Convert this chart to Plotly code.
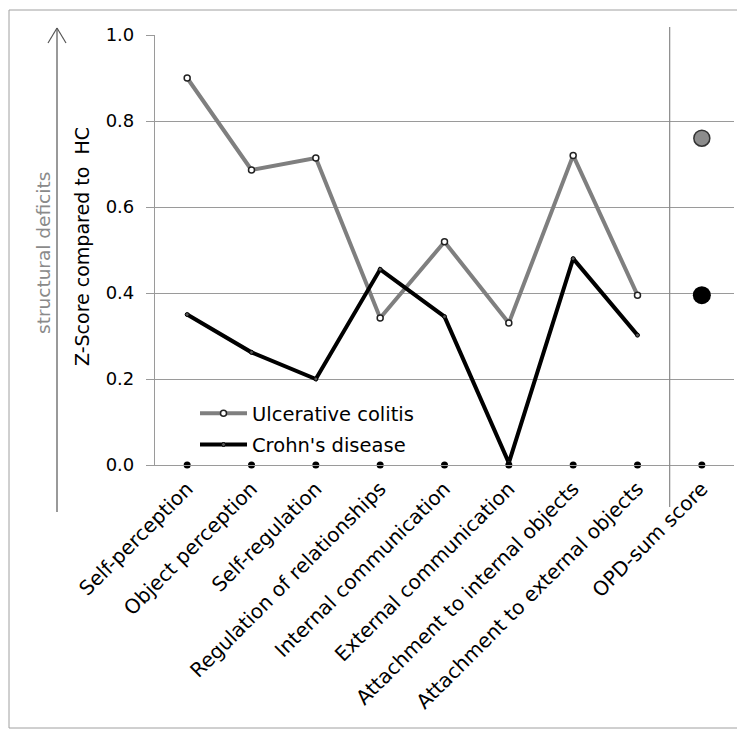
import plotly.graph_objects as go

categories = ["Self-perception", "Object perception", "Self-regulation",
              "Regulation of relationships", "Internal communication",
              "External communication", "Attachment to internal objects",
              "Attachment to external objects", "OPD-sum score"]
dimension_categories = categories[:8]
uc_values = [0.90, 0.686, 0.714, 0.342, 0.519, 0.330, 0.720, 0.395]
cd_values = [0.350, 0.262, 0.200, 0.455, 0.345, 0.005, 0.480, 0.302]
hc_values = [0, 0, 0, 0, 0, 0, 0, 0, 0]
opd_uc = [0.760]
opd_cd = [0.395]
y_ticks = [0.0, 0.2, 0.4, 0.6, 0.8, 1.0]
y_ticklabels = ["0.0", "0.2", "0.4", "0.6", "0.8", "1.0"]

FONT = "DejaVu Sans"
GRID = "#9a9a9a"

fig = go.Figure()
fig.add_trace(go.Scatter(
    x=dimension_categories, y=uc_values, mode="lines+markers",
    name="Ulcerative colitis", legendgroup="uc",
    line=dict(color="#7f7f7f", width=4),
    marker=dict(size=6, color="white", line=dict(color="#222", width=1.5)),
    cliponaxis=False))
fig.add_trace(go.Scatter(
    x=dimension_categories, y=cd_values, mode="lines+markers",
    name="Crohn's disease", legendgroup="cd",
    line=dict(color="black", width=4),
    marker=dict(size=4, color="#555", line=dict(color="black", width=1)),
    cliponaxis=False))
fig.add_trace(go.Scatter(
    x=categories, y=hc_values, mode="markers", showlegend=False,
    marker=dict(size=7, color="black"), cliponaxis=False))
fig.add_trace(go.Scatter(
    x=[categories[8]], y=opd_uc, mode="markers", showlegend=False,
    marker=dict(size=16, color="#8c8c8c", line=dict(color="#333", width=1.5)),
    cliponaxis=False))
fig.add_trace(go.Scatter(
    x=[categories[8]], y=opd_cd, mode="markers", showlegend=False,
    marker=dict(size=18, color="black"), cliponaxis=False))

# screenshot pixel -> paper coordinates (plot area 155..734 x 35..465 on screen)
def px_x(p):
    return (p - 155) / 579.0

def px_y(p):
    return (465 - p) / 430.0

shapes = [
    dict(type="rect", xref="paper", yref="paper",
         x0=px_x(9), x1=px_x(760), y0=px_y(728), y1=px_y(10),
         line=dict(color="#a0a0a0", width=1)),
    dict(type="line", xref="x", yref="paper", x0=7.5, x1=7.5,
         y0=px_y(507), y1=px_y(27), line=dict(color="#8a8a8a", width=1.2)),
    dict(type="line", xref="paper", yref="paper", x0=px_x(57), x1=px_x(57),
         y0=px_y(512), y1=px_y(28), line=dict(color="#555", width=1.2)),
    dict(type="line", xref="paper", yref="paper", x0=px_x(48), x1=px_x(57),
         y0=px_y(43), y1=px_y(28), line=dict(color="#555", width=1.2)),
    dict(type="line", xref="paper", yref="paper", x0=px_x(66), x1=px_x(57),
         y0=px_y(43), y1=px_y(28), line=dict(color="#555", width=1.2)),
]

annotations = [
    dict(text="Z-Score compared to  HC", xref="paper", yref="paper",
         x=px_x(82), y=px_y(247), xanchor="center", yanchor="middle",
         textangle=-90, showarrow=False,
         font=dict(family=FONT, size=19, color="black")),
    dict(text="structural deficits", xref="paper", yref="paper",
         x=px_x(44), y=px_y(253), xanchor="center", yanchor="middle",
         textangle=-90, showarrow=False,
         font=dict(family=FONT, size=18.5, color="#8a8a8a")),
]

fig.update_layout(
    width=737, height=723,
    margin=dict(l=147, r=11, t=27, b=266),
    paper_bgcolor="white", plot_bgcolor="white",
    font=dict(family=FONT, size=18, color="black"),
    shapes=shapes, annotations=annotations,
    legend=dict(x=px_x(195), y=px_y(394), xanchor="left", yanchor="top",
                bgcolor="rgba(0,0,0,0)", font=dict(family=FONT, size=19.5),
                itemwidth=47, traceorder="grouped", tracegroupgap=3),
    xaxis=dict(type="category", categoryorder="array", categoryarray=categories,
               range=[-0.5, 8.5], tickangle=-45, showgrid=False,
               showline=True, linecolor=GRID, linewidth=1.2,
               ticks="outside", ticklen=3, tickcolor="rgba(0,0,0,0)",
               tickfont=dict(family=FONT, size=20, color="black")),
    yaxis=dict(range=[0, 1], tickvals=y_ticks, ticktext=y_ticklabels,
               showgrid=True, gridcolor=GRID, gridwidth=1.2,
               showline=True, linecolor=GRID, linewidth=1.2,
               zeroline=False, ticks="outside", ticklen=8, tickcolor=GRID,
               tickwidth=1.2, ticklabelstandoff=8,
               tickfont=dict(family=FONT, size=18, color="black")),
)

fig.write_html("out.html")
